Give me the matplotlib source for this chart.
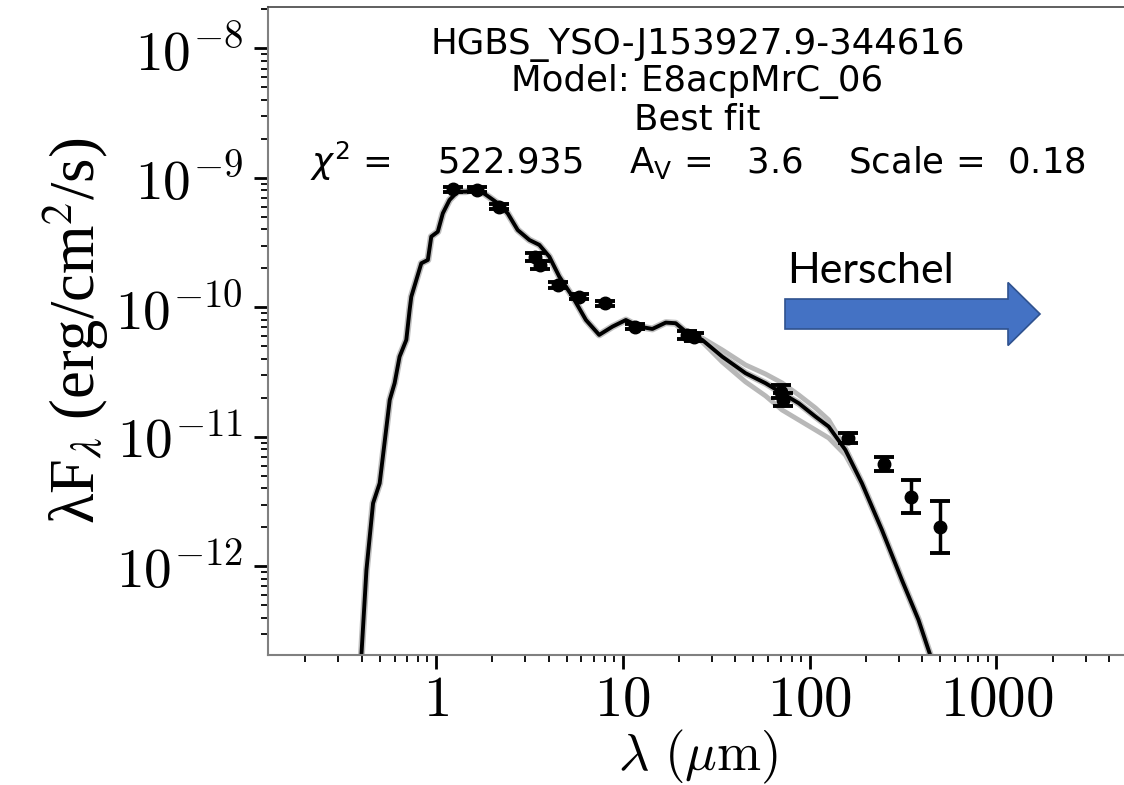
import numpy as np
import matplotlib
matplotlib.use("Agg")
import matplotlib.pyplot as plt
from matplotlib.patches import FancyArrow
from matplotlib.ticker import LogLocator, NullFormatter, FixedLocator, FixedFormatter

plt.rcParams['mathtext.fontset'] = 'cm'

# ---- observed photometry ----
obs_wav = [1.235, 1.66, 2.16, 3.4, 3.6, 4.5, 5.8, 8.0, 11.6, 22.0, 24.0, 70.0, 72.0, 160.0, 250.0, 350.0, 500.0]
obs_flux = [8.2e-10, 8.1e-10, 6.0e-10, 2.44e-10, 2.13e-10, 1.49e-10, 1.21e-10, 1.08e-10, 7.1e-11,
            6.1e-11, 5.9e-11, 2.23e-11, 1.93e-11, 9.8e-12, 6.2e-12, 3.46e-12, 2.03e-12]
obs_err_dex = [0.02, 0.02, 0.02, 0.03, 0.03, 0.02, 0.02, 0.02, 0.02,
               0.03, 0.03, 0.05, 0.05, 0.04, 0.055, 0.128, 0.20]

# ---- best-fit model (log10 of lambda F_lambda) ----
model_wav = [0.38, 0.398, 0.424, 0.460, 0.499, 0.565, 0.600, 0.638, 0.693, 0.722, 0.737, 0.834, 0.904,
             0.943, 1.022, 1.087, 1.181, 1.303, 1.450, 1.640, 1.854, 2.138, 2.418, 2.735, 3.159, 3.572,
             4.040, 4.568, 5.381, 6.345, 7.470, 8.801, 10.38, 12.22, 14.39, 16.97, 19.19, 21.70, 26.62,
             34.05, 45.40, 58.06, 71.23, 87.47, 107.4, 126.5, 155.3, 190.5, 243.7, 311.6, 382.6, 432.8, 490.0]
model_logflux = [-13.21, -12.697, -12.027, -11.512, -11.358, -10.714, -10.585, -10.380, -10.251, -10.019,
                 -9.917, -9.659, -9.633, -9.453, -9.415, -9.273, -9.170, -9.106, -9.106, -9.080, -9.131,
                 -9.195, -9.273, -9.402, -9.479, -9.517, -9.608, -9.762, -9.917, -10.097, -10.212, -10.148,
                 -10.097, -10.148, -10.166, -10.117, -10.122, -10.187, -10.251, -10.380, -10.508, -10.585,
                 -10.663, -10.740, -10.843, -10.920, -11.100, -11.358, -11.718, -12.104, -12.413, -12.645, -12.876]

# ---- other good-fit models (grey) ----
grey_wav = [19.19, 21.70, 26.62, 34.05, 45.40, 58.06, 71.23, 87.47, 107.4, 126.5, 155.3, 190.5, 243.7, 311.6]
grey_upper_logflux = [-10.122, -10.187, -10.236, -10.328, -10.444, -10.514, -10.583, -10.676, -10.776,
                      -10.869, -11.085, -11.355, -11.718, -12.104]
grey_lower_logflux = [-10.130, -10.200, -10.266, -10.421, -10.575, -10.683, -10.792, -10.869, -10.946,
                      -11.008, -11.139, -11.371, -11.730, -12.110]

xtick_vals = [1, 10, 100, 1000]
xtick_labels = ['1', '10', '100', '1000']
ytick_vals = [1e-12, 1e-11, 1e-10, 1e-9, 1e-8]
ytick_labels = [r'$10^{-12}$', r'$10^{-11}$', r'$10^{-10}$', r'$10^{-9}$', r'$10^{-8}$']

title_lines = ['HGBS_YSO-J153927.9-344616', 'Model: E8acpMrC_06', 'Best fit',
               r'$\chi^2$ =    522.935    A$_\mathrm{V}$ =   3.6    Scale =  0.18']

fig = plt.figure(figsize=(11.24, 7.85), dpi=100)
ax = fig.add_axes([268/1124, 130/785, 859/1124, 648/785])
ax.set_xscale('log')
ax.set_yscale('log')
ax.set_xlim(0.126, 5000)
ax.set_ylim(2.07e-13, 2.09e-8)

mw = np.array(model_wav)
for lf in (grey_upper_logflux, grey_lower_logflux):
    ax.plot(grey_wav, 10**np.array(lf), color='#b8b8b8', lw=3.5, zorder=1, solid_capstyle='round')
ax.plot(mw, 10**np.array(model_logflux), color='#c0c0c0', lw=5.0, zorder=1.5)
ax.plot(mw, 10**np.array(model_logflux), color='black', lw=2.8, zorder=2)

f = np.array(obs_flux)
e = np.array(obs_err_dex)
yerr = np.vstack([f - f*10**(-e), f*10**e - f])
ax.errorbar(obs_wav, f, yerr=yerr, fmt='o', color='black', ms=9, elinewidth=2.5,
            capsize=7, capthick=2.8, zorder=3)

for side in ('left', 'bottom'):
    ax.spines[side].set_color('#808080')
    ax.spines[side].set_linewidth(1.5)
ax.spines['top'].set_color('#444444')
ax.spines['top'].set_linewidth(1.2)
ax.spines['right'].set_visible(False)

ax.xaxis.set_major_locator(FixedLocator(xtick_vals))
ax.xaxis.set_major_formatter(FixedFormatter([r'$%s$' % s for s in xtick_labels]))
ax.xaxis.set_minor_locator(LogLocator(base=10, subs=np.arange(2, 10), numticks=20))
ax.xaxis.set_minor_formatter(NullFormatter())
ax.yaxis.set_major_locator(FixedLocator(ytick_vals))
ax.yaxis.set_major_formatter(FixedFormatter(ytick_labels))
ax.yaxis.set_minor_locator(LogLocator(base=10, subs=np.arange(2, 10), numticks=20))
ax.yaxis.set_minor_formatter(NullFormatter())
ax.tick_params(which='major', length=10, width=2, direction='out')
ax.tick_params(which='minor', length=5, width=1.3, direction='out')
ax.tick_params(axis='x', which='major', labelsize=41, pad=3)
ax.tick_params(axis='y', which='major', labelsize=40, pad=8)

ax.set_xlabel(r'$\lambda\ (\mu\mathrm{m})$', fontsize=38)
ax.xaxis.set_label_coords(0.5, -(757 - 655) / 648)
ax.xaxis.label.set_va('center')
ax.set_ylabel(r'λF$_\lambda$ (erg/cm$^2$/s)', fontsize=45, family='Liberation Serif',
              math_fontfamily='stix', labelpad=3)

ax.text(0.5, 0.968, '\n'.join(title_lines), transform=ax.transAxes, ha='center', va='top',
        fontsize=25.6, family='DejaVu Sans', math_fontfamily='dejavusans', linespacing=1.1)

ax.text(787/1124, (785-283)/785, 'Herschel', transform=fig.transFigure, fontsize=31,
        family='Lato', ha='left', va='baseline')
arrow = FancyArrow(7.85, 4.71, 2.55, 0, width=0.30, head_width=0.63, head_length=0.32,
                   length_includes_head=True, transform=fig.dpi_scale_trans,
                   facecolor='#4472C4', edgecolor='#2F528F', lw=1.2)
fig.patches.append(arrow)

fig.savefig('out.png', dpi=100)
